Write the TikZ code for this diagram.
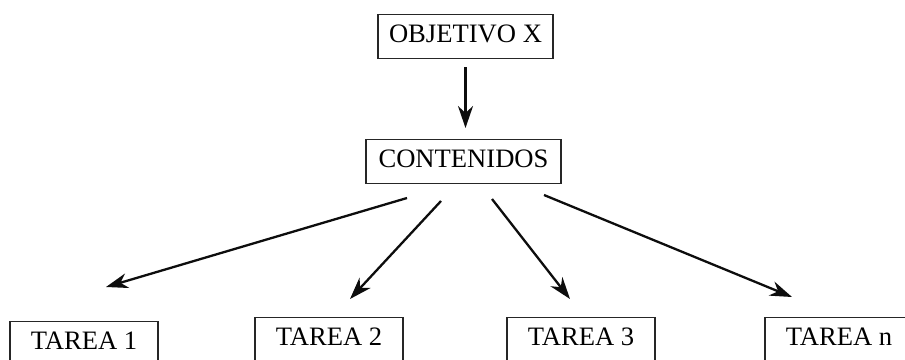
\documentclass[tikz,border=0pt]{standalone}
\usepackage{fontspec}
\setmainfont{Liberation Serif}
\usetikzlibrary{arrows.meta}

\tikzset{
  caja/.style={draw=black!85, line width=0.55pt, inner xsep=0pt, inner ysep=0pt,
    text height=14.2pt, text depth=7.8pt, font=\fontsize{13.3}{15}\selectfont, text=black},
  flecha/.style={-{Stealth[length=11pt,width=7.5pt,inset=3.5pt]}, line width=1.15pt, black!95}
}

\begin{document}
\begin{tikzpicture}[x=0.5pt,y=-0.5pt]

\useasboundingbox (0,0) rectangle (905,359);
\clip (0,0) rectangle (905,359);

%Cajas
\node[caja, minimum width=87.5pt, anchor=north] (obj) at (465.5,14) {OBJETIVO X};
\node[caja, minimum width=97.5pt, anchor=north] (cont) at (463.5,139) {CONTENIDOS};
\node[caja, minimum width=74pt, anchor=north] (t1) at (84,321) {TAREA 1};
\node[caja, minimum width=74pt, anchor=north] (t2) at (329,317) {TAREA 2};
\node[caja, minimum width=74pt, anchor=north] (t3) at (581,317) {TAREA 3};
\node[caja, minimum width=74pt, anchor=north] (tn) at (839,317) {TAREA n};

%Flechas
\draw[flecha, shorten <=4pt, shorten >=5.5pt] (obj.south) -- (obj.south |- cont.north);

\coordinate (s1) at (407,198);
\coordinate (e1) at (106,287);
\coordinate (s2) at (441,201);
\coordinate (e2) at (350,299);
\coordinate (s3) at (492,199);
\coordinate (e3) at (570,299);
\coordinate (s4) at (544,195);
\coordinate (e4) at (792,297);

\foreach \i in {1,2,3,4}
  \draw[flecha] (s\i) -- (e\i);

\end{tikzpicture}
\end{document}
